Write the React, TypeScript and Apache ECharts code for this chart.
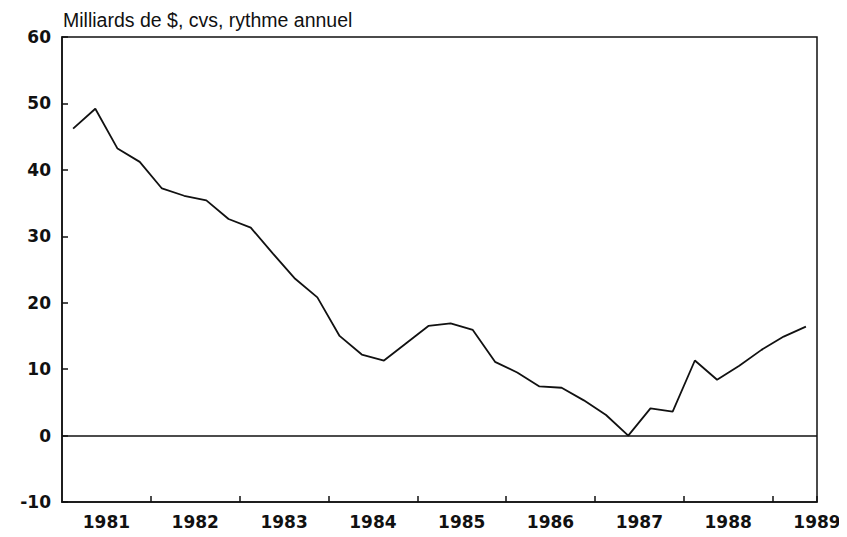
import React, { useEffect, useRef } from "react";
import * as echarts from "echarts";

const quarters = [
  "1981T1", "1981T2", "1981T3", "1981T4",
  "1982T1", "1982T2", "1982T3", "1982T4",
  "1983T1", "1983T2", "1983T3", "1983T4",
  "1984T1", "1984T2", "1984T3", "1984T4",
  "1985T1", "1985T2", "1985T3", "1985T4",
  "1986T1", "1986T2", "1986T3", "1986T4",
  "1987T1", "1987T2", "1987T3", "1987T4",
  "1988T1", "1988T2", "1988T3", "1988T4",
  "1989T1", "1989T2",
];

const values = [
  46.2, 49.2, 43.2, 41.2,
  37.2, 36.1, 35.4, 32.6,
  31.3, 27.4, 23.6, 20.8,
  15.0, 12.2, 11.3, 13.9,
  16.5, 16.9, 15.9, 11.1,
  9.5, 7.4, 7.2, 5.3,
  3.1, 0.0, 4.1, 3.6,
  11.3, 8.4, 10.5, 12.9,
  14.9, 16.4,
];

const yearStart = 1981;
const yearEnd = 1989.5;
const yMin = -10;
const yMax = 60;
const yStep = 10;
const titleText = "Milliards de $, cvs, rythme annuel";

export default function App() {
  const ref = useRef<HTMLDivElement>(null);
  useEffect(() => {
    if (!ref.current) return;
    const chart = echarts.init(ref.current, null, { renderer: "svg" });
    const ink = "#111";
    const labelFont = {
      fontFamily: "DejaVu Sans, sans-serif",
      fontSize: 17,
      fontWeight: "bold",
      color: ink,
    };
    chart.setOption({
      animation: false,
      backgroundColor: "#fff",
      title: {
        text: titleText,
        left: 50,
        top: 0,
        padding: [2, 5, 5, 5],
        textStyle: {
          fontFamily: "Liberation Sans, Arial, sans-serif",
          fontSize: 19.5,
          fontWeight: "normal",
          color: ink,
        },
      },
      grid: {
        left: 54,
        right: 30,
        top: 29,
        bottom: 35,
        outerBoundsMode: "none",
        containLabel: false,
        show: true,
        borderColor: ink,
        borderWidth: 1.5,
        backgroundColor: "transparent",
      },
      xAxis: [
        {
          type: "category",
          data: quarters,
          boundaryGap: true,
          axisLine: { show: true, onZero: false, lineStyle: { color: ink, width: 1.5 } },
          axisTick: {
            show: true,
            inside: true,
            length: 6,
            interval: (i: number) => i > 0 && i % 4 === 0,
            lineStyle: { color: ink, width: 1.5 },
          },
          axisLabel: { show: false },
          splitLine: { show: false },
        },
        {
          type: "value",
          min: yearStart,
          max: yearEnd,
          interval: 0.5,
          position: "bottom",
          axisLine: { show: false },
          axisTick: { show: false },
          splitLine: { show: false },
          axisLabel: {
            show: true,
            margin: 11,
            showMinLabel: true,
            showMaxLabel: true,
            ...labelFont,
            formatter: (v: number) => (Math.abs((v % 1) - 0.5) < 1e-6 ? String(Math.floor(v)) : ""),
          },
        },
      ],
      yAxis: {
        type: "value",
        min: yMin,
        max: yMax,
        interval: yStep,
        axisLine: { show: true, lineStyle: { color: ink, width: 1.5 } },
        axisTick: { show: true, inside: true, length: 6, lineStyle: { color: ink, width: 1.5 } },
        axisLabel: {
          margin: 11,
          ...labelFont,
        },
        splitLine: { show: false },
      },
      series: [
        {
          type: "line",
          xAxisIndex: 0,
          data: values,
          showSymbol: false,
          symbol: "none",
          lineStyle: { color: ink, width: 1.8 },
          markLine: {
            silent: true,
            symbol: ["none", "none"],
            label: { show: false },
            lineStyle: { color: ink, width: 1.5, type: "solid" },
            data: [{ yAxis: 0 }],
          },
        },
      ],
    });
    return () => chart.dispose();
  }, []);
  return <div ref={ref} style={{ width: 839, height: 529 }} />;
}
